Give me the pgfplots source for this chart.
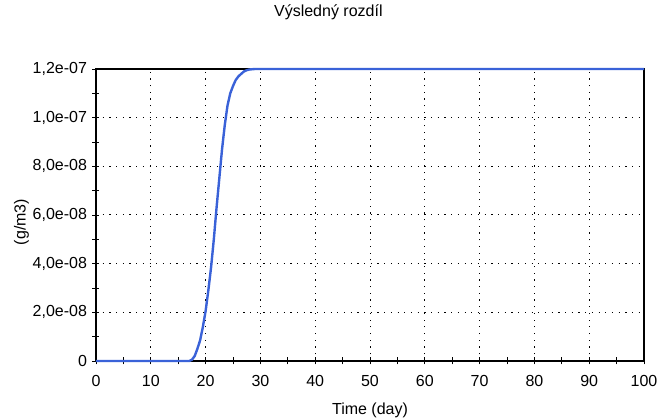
\documentclass[border=0pt]{standalone}
\usepackage{fontspec}
\setmainfont{Liberation Sans}
\usepackage{pgfplots}
\pgfplotsset{compat=1.18}
\definecolor{curve}{RGB}{58,98,216}

\begin{document}
\fontsize{16}{19}\selectfont
\begin{tikzpicture}[x=1pt,y=1pt]
\useasboundingbox (0,0) rectangle (657,418);
\begin{axis}[
    at={(96pt,57pt)}, anchor=south west,
    width=548pt, height=292pt, scale only axis,
    xmin=0, xmax=100, ymin=0, ymax=1.2e-7,
    xtick={0,10,...,100},
    minor xtick={5,15,...,95},
    ytick={0,2e-8,4e-8,6e-8,8e-8,1e-7,1.2e-7},
    yticklabels={0,{2,0e-08},{4,0e-08},{6,0e-08},{8,0e-08},{1,0e-07},{1,2e-07}},
    minor ytick={1e-8,3e-8,5e-8,7e-8,9e-8,1.1e-7},
    scaled y ticks=false,
    /pgf/number format/assume math mode=true,
    xtick pos=bottom, ytick pos=left,
    tick align=center,
    major tick length=7pt, minor tick length=7pt,
    tick style={black, line width=0.9pt},
    axis line style={black, line width=1.3pt},
    grid=major,
    major grid style={black, line width=1pt, dash pattern=on 1.2pt off 5.5pt},
    ticklabel style={font=\fontsize{16}{19}\selectfont},
    xticklabel style={yshift=-5pt},
    title={Výsledný rozdíl},
    title style={at={(rel axis cs:0.424,1.175)}, anchor=center, font=\fontsize{16}{19}\selectfont},
    xlabel={Time (day)},
    xlabel style={at={(rel axis cs:0.5,-0.168)}, anchor=center, font=\fontsize{16}{19}\selectfont},
    ylabel={(g/m3)},
    ylabel style={at={(rel axis cs:-0.136,0.476)}, anchor=center, font=\fontsize{16}{19}\selectfont},
    clip=false,
]
\addplot[curve, line width=2.4pt] coordinates {
(0,0) (17,0) (17.5,0.05e-8) (18,0.2e-8) (18.5,0.5e-8) (19,0.85e-8)
(19.5,1.4e-8) (20,2.05e-8) (20.5,2.9e-8) (21,3.85e-8) (21.5,5.0e-8)
(22,6.3e-8) (22.5,7.5e-8) (23,8.7e-8) (23.5,9.7e-8) (24,10.5e-8)
(24.5,11.0e-8) (25,11.3e-8) (25.5,11.55e-8) (26,11.7e-8) (26.5,11.8e-8)
(27,11.9e-8) (27.5,11.95e-8) (28,11.98e-8) (29,12e-8) (100,12e-8)
};
\end{axis}
\end{tikzpicture}
\end{document}
